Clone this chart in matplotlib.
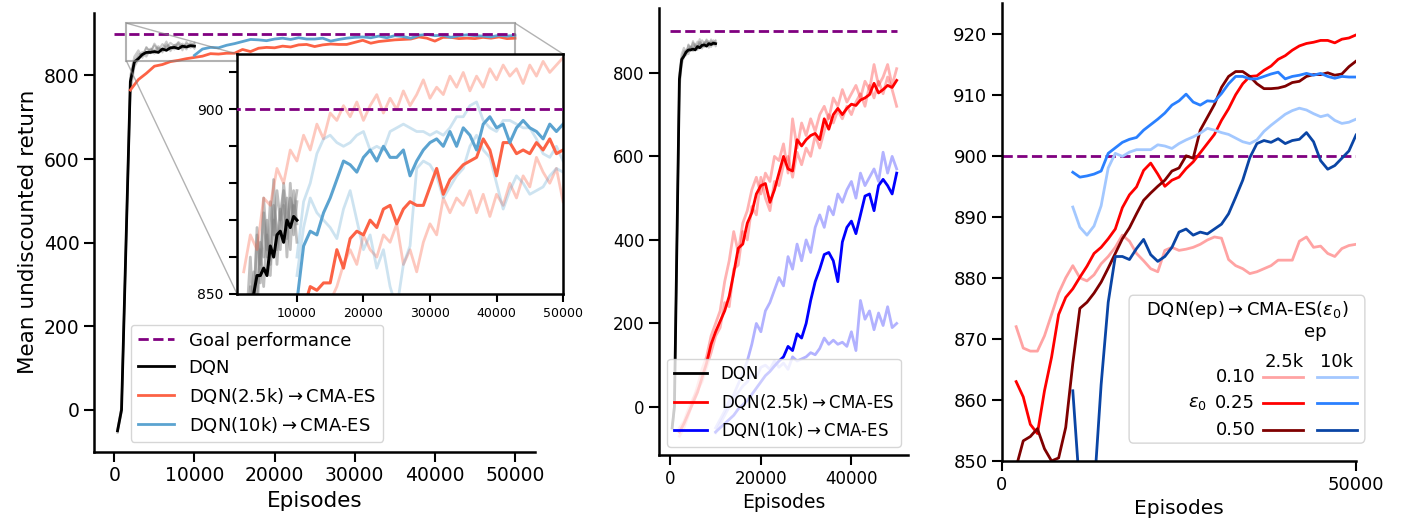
import numpy as np
import matplotlib.pyplot as plt
from matplotlib.lines import Line2D
from matplotlib.patches import FancyBboxPatch

# ---------------- data ----------------
goal = 900

# DQN runs (shared by left and middle panels)
dqn_x = [400, 900, 2000, 2500, 3000, 3500, 4000, 4500, 5000, 5500,
         6000, 6500, 7000, 7500, 8000, 8500, 9000, 9500, 10000]
dqn_mean = [-50, 0, 785, 832, 840, 850, 855, 855, 857, 855,
            863, 860, 866, 867, 864, 870, 868, 871, 870]
dqn_run1 = [-50, 10, 790, 835, 852, 848, 866, 858, 872, 860,
            875, 866, 878, 870, 874, 865, 876, 872, 878]
dqn_run2 = [-55, -5, 760, 820, 838, 850, 845, 862, 852, 866,
            858, 870, 862, 873, 866, 876, 868, 874, 864]
dqn_run3 = [-45, 5, 800, 845, 860, 842, 868, 853, 876, 862,
            864, 881, 858, 872, 878, 860, 880, 866, 875]
dqn_run4 = [-52, -2, 770, 828, 846, 856, 850, 864, 860, 870,
            855, 874, 868, 862, 880, 871, 862, 878, 869]

# evaluation checkpoints for the CMA-ES phase
ep_25k = np.arange(2000, 50001, 1000)
ep_10k = np.arange(10000, 50001, 1000)

# left panel (and inset)
left_red_mean = [765, 790, 805, 822, 826, 833, 836, 840, 843,
                 846, 852, 851, 853, 853, 862, 857, 865, 867, 866,
                 870, 868, 873, 874, 869, 873, 875, 874, 874, 879,
                 884, 877, 881, 883, 885, 886, 887, 892, 889, 882,
                 891, 891, 888, 889, 888, 891, 889, 892, 888, 889]
left_red_hi = [856, 866, 862, 876, 874, 884, 880, 889, 886,
               893, 889, 896, 892, 899, 897, 901, 898, 902, 897,
               901, 904, 899, 903, 900, 905, 901, 904, 908, 903,
               906, 904, 909, 906, 910, 905, 909, 906, 911, 908,
               912, 909, 911, 907, 912, 909, 913, 910, 912, 914]
left_red_lo = [780, 790, 800, 805, 810, 815, 820, 825, 828,
               832, 835, 840, 845, 848, 852, 858, 862, 858, 866,
               862, 860, 866, 864, 869, 858, 862, 856, 864, 869,
               866, 876, 872, 876, 874, 878, 872, 877, 871, 877,
               874, 880, 876, 882, 879, 887, 883, 880, 884, 875]
left_blue_mean = [848, 863, 867, 866, 872, 876, 881, 886, 885, 883,
                  887, 889, 886, 890, 887, 887, 889, 882, 886, 889,
                  891, 892, 890, 894, 890, 895, 893, 889, 896, 898,
                  895, 896, 891, 895, 897, 895, 894, 892, 896, 894,
                  896]
left_blue_hi = [860, 875, 880, 888, 892, 893, 891, 890, 891, 893,
                894, 889, 890, 889, 894, 895, 896, 895, 894, 894,
                893, 894, 893, 895, 898, 898, 901, 902, 897, 895,
                894, 897, 897, 896, 895, 895, 892, 888, 887, 890,
                886]
left_blue_lo = [855, 868, 876, 872, 870, 868, 865, 873, 878, 870,
                862, 866, 857, 862, 852, 846, 858, 863, 884, 886,
                885, 882, 876, 879, 882, 884, 890, 893, 889, 887,
                880, 873, 878, 882, 880, 877, 878, 879, 882, 884,
                883]

# middle panel
mid_red_mean = [-60, -40, -15, 10, 35, 70, 105, 150, 180,
                205, 230, 265, 320, 380, 390, 440, 465, 510, 530,
                535, 490, 520, 560, 600, 570, 565, 640, 625, 640,
                650, 655, 640, 690, 665, 700, 715, 700, 715, 725,
                722, 735, 740, 748, 775, 752, 760, 770, 765, 782]
mid_red_a = [-70, -50, -20, 15, 50, 90, 120, 170, 200,
             230, 300, 350, 420, 370, 440, 470, 520, 550, 510,
             560, 540, 600, 590, 630, 560, 690, 620, 680, 650,
             690, 660, 700, 720, 690, 740, 720, 760, 730, 750,
             770, 740, 780, 760, 820, 770, 790, 820, 770, 810]
mid_red_b = [-50, -35, -5, 20, 40, 60, 95, 130, 170,
             190, 250, 240, 330, 340, 420, 400, 480, 460, 550,
             500, 470, 540, 530, 580, 600, 550, 610, 580, 620,
             600, 650, 620, 660, 700, 680, 710, 690, 720, 700,
             730, 750, 720, 770, 740, 780, 750, 790, 760, 720]
mid_blue_mean = [-60, -50, -40, -30, -20, -5, 5, 15, 30, 45,
                 60, 75, 85, 98, 110, 120, 145, 135, 175, 165,
                 200, 255, 300, 330, 365, 370, 350, 300, 395, 430,
                 445, 415, 460, 505, 510, 470, 530, 545, 530, 510,
                 560]
mid_blue_hi = [-50, -30, -10, 15, 30, 55, 80, 110, 150, 200,
               180, 230, 250, 280, 310, 290, 360, 330, 390, 350,
               400, 370, 430, 460, 430, 480, 460, 510, 490, 520,
               540, 500, 560, 530, 550, 570, 540, 610, 560, 600,
               570]
mid_blue_lo = [-62, -40, -20, 0, 20, 35, 50, 60, 80, 70,
               95, 100, 90, 110, 95, 105, 90, 120, 110, 115,
               120, 130, 125, 140, 165, 150, 160, 150, 155, 145,
               180, 135, 255, 210, 230, 185, 225, 195, 240, 190,
               200]

# right panel: DQN(ep) -> CMA-ES(eps0)
eps_labels = ['0.10', '0.25', '0.50']
r_25k = [
    [872, 868.5, 868, 868, 870.5, 874, 877.5, 880, 882,
     880, 879.5, 880.5, 882.3, 883.5, 885, 887, 886, 884, 882.8,
     881.5, 881, 884.5, 885, 884.5, 884.7, 885, 885.5, 886.2, 886.7,
     886.5, 883, 882, 881.5, 880.7, 881, 881.5, 882, 882.9, 882.9,
     882.9, 886, 886.7, 885, 885.2, 884, 883.5, 884.8, 885.3, 885.5],
    [863, 860.5, 856, 854.5, 861.5, 867, 874, 876.8, 878.2,
     880.1, 881.9, 884, 885, 886.4, 888, 891.5, 893.6, 894.9, 897.6,
     898.8, 897, 895, 896, 896.5, 897.9, 899, 900.5, 902, 903.5,
     905.8, 907.7, 910, 911.8, 913, 913.1, 914, 914.7, 915.8, 916.4,
     917.3, 918, 918.4, 918.6, 918.9, 918.9, 918.5, 919.1, 919.3, 919.8],
    [849, 853.3, 854, 855.3, 852, 850, 850.5, 855.5, 866,
     875, 876, 877.5, 879.3, 881.6, 884, 886.4, 888.2, 890.5, 892.7,
     893.9, 895, 896, 897.5, 898, 900, 899.6, 904.2, 906.3, 908.4,
     911.2, 913, 913.8, 913.8, 913, 911.8, 911, 911, 911.1, 911.4,
     912, 912.2, 913, 913.3, 913.3, 913.6, 913.2, 913.4, 914.6, 915.5],
]
r_10k = [
    [891.6, 888.3, 887, 888.5, 891.8, 898, 900.4, 899.9, 900.6, 901,
     901, 901, 901.8, 901.6, 901.2, 902, 902.6, 903.1, 903.7, 904.5,
     904.2, 903.8, 903.5, 902.9, 902.3, 902, 902.6, 904, 905, 905.9,
     906.8, 907.4, 907.8, 907.5, 906.9, 906.4, 906.7, 905.8, 905.3, 905.5,
     906],
    [897.3, 896.5, 896.7, 897, 897.5, 900.4, 901.3, 902.2, 902.7, 903,
     904.2, 905.1, 906, 907, 908.3, 909, 910.1, 908.8, 908.3, 909,
     908.9, 910.2, 911.8, 913, 913, 912.6, 912.6, 913, 913.4, 913.7,
     912.6, 913, 913.2, 913.5, 913.2, 913.5, 913, 912.7, 913, 912.9,
     912.9],
    [861.5, 845, 840, 845, 862.5, 876, 883.5, 883.5, 883, 884.8,
     886.3, 883.8, 882.7, 883.5, 885, 887.5, 888, 887, 887.5, 887.2,
     888, 888.8, 890.5, 893.2, 896, 899.7, 902, 902.5, 902.2, 902.8,
     902, 902.5, 902.7, 903.8, 902.3, 899.2, 897.8, 898.4, 899.6, 900.8,
     903.4],
]
colors_25k = ['#ffa3a3', '#ff0000', '#7f0000']
colors_10k = ['#a3c8ff', '#2a80ff', '#0a45a5']

# ---------------- style ----------------
plt.rcParams['font.family'] = ['DejaVu Sans']
plt.rcParams['axes.linewidth'] = 1.8
for a in ('xtick', 'ytick'):
    plt.rcParams[a + '.major.width'] = 1.5
    plt.rcParams[a + '.major.size'] = 7

RED = '#fc6245'
BLUE = '#5ba3d0'
GOAL_KW = dict(ls='--', color='purple', lw=2)
ARROW = '$\\rightarrow$'

fig = plt.figure(figsize=(14.01, 5.22), dpi=100)
ax1 = fig.add_axes([0.0673, 0.1347, 0.3146, 0.841])
ax2 = fig.add_axes([0.4704, 0.1284, 0.1777, 0.856])
ax3 = fig.add_axes([0.7152, 0.1169, 0.2527, 0.877])
axins = fig.add_axes([0.1692, 0.4368, 0.2327, 0.4598])

for ax in (ax1, ax2, ax3):
    ax.spines['top'].set_visible(False)
    ax.spines['right'].set_visible(False)

dqn_runs = [dqn_run1, dqn_run2, dqn_run3, dqn_run4]

# ---- left panel ----
ax1.plot([0, 50000], [goal, goal], zorder=4, **GOAL_KW)
for run in dqn_runs:
    ax1.plot(dqn_x, run, color='gray', alpha=0.4, lw=1.5)
ax1.plot(dqn_x, dqn_mean, color='k', lw=2)
ax1.plot(ep_25k, left_red_mean, color=RED, lw=2)
ax1.plot(ep_10k, left_blue_mean, color=BLUE, lw=2)
ax1.set_xlim(-2500, 52500)
ax1.set_ylim(-100, 950)
ax1.set_xticks(range(0, 50001, 10000))
ax1.set_yticks(range(0, 801, 200))
ax1.tick_params(labelsize=13.5)
ax1.set_xlabel('Episodes', fontsize=15.5)
ax1.set_ylabel('Mean undiscounted return', fontsize=15.5)

handles = [Line2D([], [], **GOAL_KW),
           Line2D([], [], color='k', lw=2),
           Line2D([], [], color=RED, lw=2),
           Line2D([], [], color=BLUE, lw=2)]
labels = ['Goal performance', 'DQN',
          'DQN(2.5k)' + ARROW + 'CMA-ES', 'DQN(10k)' + ARROW + 'CMA-ES']
ax1.legend(handles, labels, loc='lower left', bbox_to_anchor=(0.083, 0.022),
           borderaxespad=0, fontsize=13)

# ---- inset ----
axins.plot([0, 50000], [goal, goal], zorder=4, **GOAL_KW)
for run in dqn_runs:
    axins.plot(dqn_x, run, color='gray', alpha=0.5, lw=2)
axins.plot(dqn_x, dqn_mean, color='k', lw=2.2)
for run in (left_red_hi, left_red_lo):
    axins.plot(ep_25k, run, color=RED, alpha=0.35, lw=2)
for run in (left_blue_hi, left_blue_lo):
    axins.plot(ep_10k, run, color=BLUE, alpha=0.3, lw=2)
axins.plot(ep_25k, left_red_mean, color=RED, lw=2.2)
axins.plot(ep_10k, left_blue_mean, color=BLUE, lw=2.2)
axins.set_xlim(1000, 50000)
axins.set_ylim(850, 915)
axins.set_xticks(range(10000, 50001, 10000))
axins.set_yticks(range(850, 911, 10))
axins.set_yticklabels(['850', '', '', '', '', '900', ''])
axins.tick_params(labelsize=9, length=6)
axins.tick_params(axis='y', labelsize=10)

res = ax1.indicate_inset([1500, 835, 48500, 90], inset_ax=axins,
                         edgecolor='0.5', alpha=0.6, lw=1.5)
conns = res.connectors if hasattr(res, 'connectors') else res[1]
for i, c in enumerate(conns):
    c.set_visible(i != 2)
    c.set_linewidth(1)

# ---- middle panel ----
ax2.plot([0, 50000], [goal, goal], **GOAL_KW)
for run in dqn_runs:
    ax2.plot(dqn_x, run, color='gray', alpha=0.4, lw=1.5)
ax2.plot(dqn_x, dqn_mean, color='k', lw=2, label='DQN')
for run in (mid_red_a, mid_red_b):
    ax2.plot(ep_25k, run, color='red', alpha=0.3, lw=2)
ax2.plot(ep_25k, mid_red_mean, color='red', lw=2,
         label='DQN(2.5k)' + ARROW + 'CMA-ES')
for run in (mid_blue_hi, mid_blue_lo):
    ax2.plot(ep_10k, run, color='blue', alpha=0.3, lw=2)
ax2.plot(ep_10k, mid_blue_mean, color='blue', lw=2,
         label='DQN(10k)' + ARROW + 'CMA-ES')
ax2.set_xlim(-2500, 52500)
ax2.set_ylim(-115, 955)
ax2.set_xticks([0, 20000, 40000])
ax2.set_yticks(range(0, 801, 200))
ax2.tick_params(labelsize=12)
ax2.set_xlabel('Episodes', fontsize=13.5)
ax2.legend(loc='lower left', fontsize=12)

# ---- right panel ----
ax3.plot([0, 50000], [goal, goal], **GOAL_KW)
for vals, col in zip(r_25k, colors_25k):
    ax3.plot(ep_25k, vals, color=col, lw=2)
for vals, col in zip(r_10k, colors_10k):
    ax3.plot(ep_10k, vals, color=col, lw=2)
ax3.set_xlim(0, 50000)
ax3.set_ylim(850, 925)
ax3.set_xticks([0, 50000])
ax3.set_yticks(range(850, 921, 10))
ax3.tick_params(labelsize=13)
ax3.set_xlabel('Episodes', fontsize=14.5)

# custom two-way legend
tr = ax3.transAxes
box = FancyBboxPatch((0.359, 0.039), 0.666, 0.323, transform=tr,
                     boxstyle='round,pad=0,rounding_size=0.012',
                     facecolor='white', edgecolor='0.8', alpha=0.8,
                     lw=1, clip_on=False, zorder=10)
ax3.add_patch(box)
tkw = dict(transform=tr, fontsize=13, zorder=11, clip_on=False)
ax3.text(0.692, 0.330, 'DQN(ep)' + ARROW + 'CMA-ES($\\varepsilon_0$)',
         ha='center', va='center', **tkw)
ax3.text(0.884, 0.282, 'ep', ha='center', va='center', **tkw)
ax3.text(0.797, 0.217, '2.5k', ha='center', va='center', **tkw)
ax3.text(0.946, 0.217, '10k', ha='center', va='center', **tkw)
ax3.text(0.551, 0.127, '$\\varepsilon_0$', ha='center', va='center', **tkw)
for row_y, lab, c25, c10 in zip([0.184, 0.126, 0.068], eps_labels,
                                colors_25k, colors_10k):
    ax3.text(0.715, row_y, lab, ha='right', va='center', **tkw)
    ax3.add_line(Line2D([0.737, 0.850], [row_y, row_y], color=c25, lw=2,
                        transform=tr, clip_on=False, zorder=11))
    ax3.add_line(Line2D([0.890, 1.003], [row_y, row_y], color=c10, lw=2,
                        transform=tr, clip_on=False, zorder=11))

fig.savefig('out.png', dpi=100)
